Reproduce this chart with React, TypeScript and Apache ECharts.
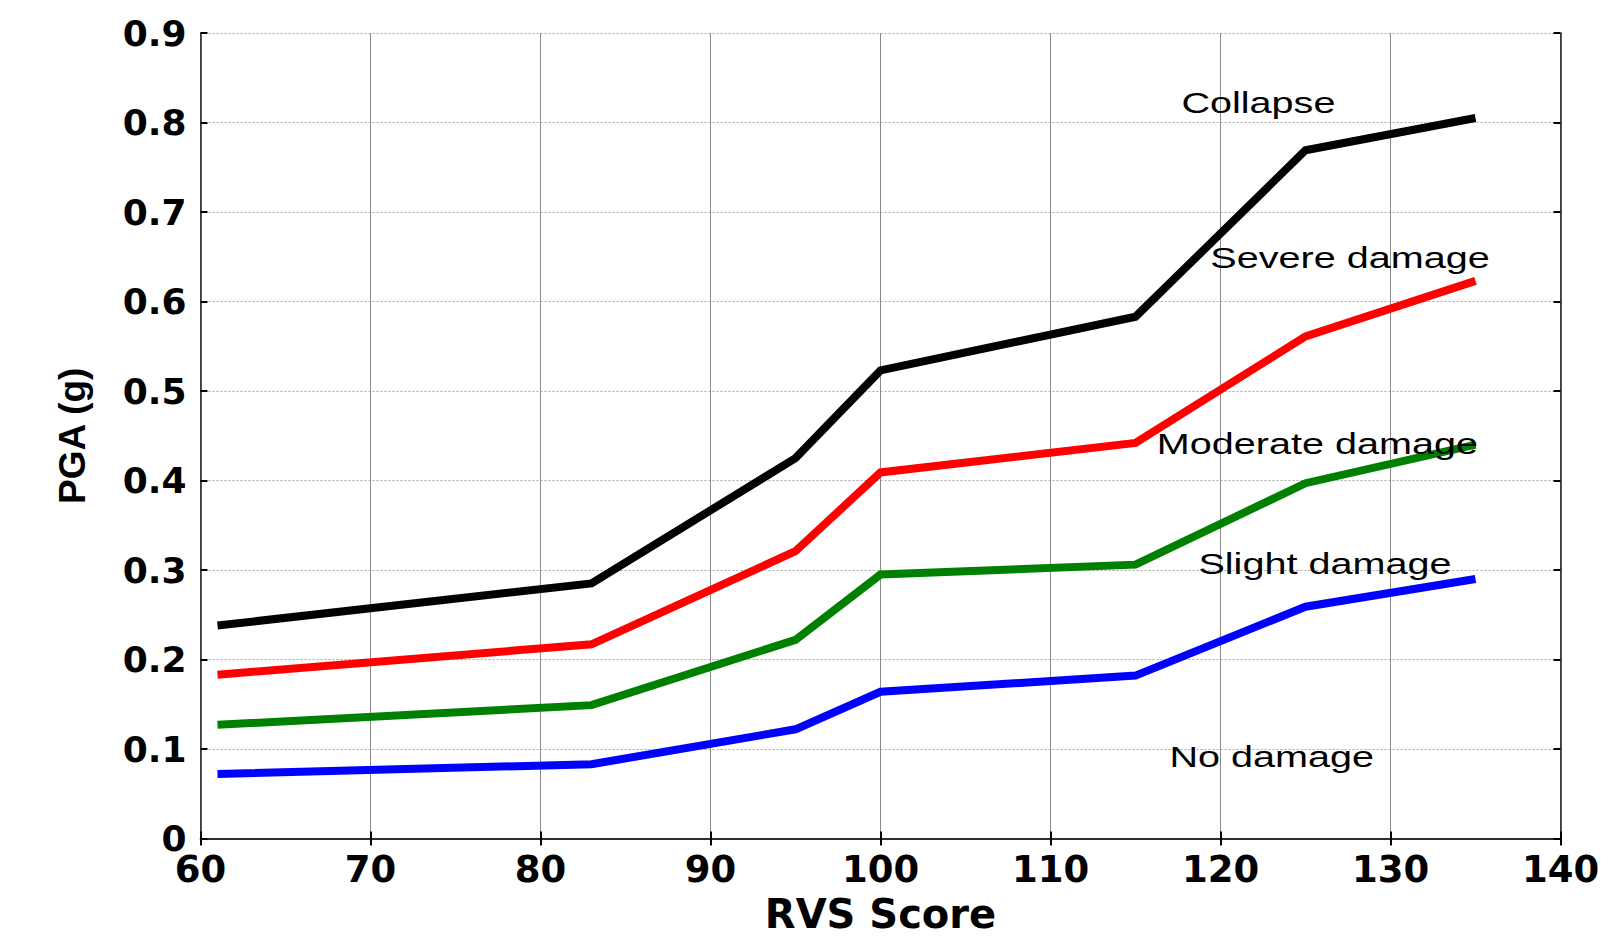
import React, { useEffect, useRef } from "react";
import * as echarts from "echarts";

// RVS score (x) at which each threshold was evaluated
const rvsScore = [61, 83, 95, 100, 115, 125, 135];

// PGA thresholds (g) separating the damage regions
const collapsePGA = [0.238, 0.285, 0.425, 0.523, 0.583, 0.769, 0.805];
const severePGA = [0.183, 0.217, 0.321, 0.409, 0.442, 0.561, 0.623];
const moderatePGA = [0.127, 0.149, 0.222, 0.295, 0.306, 0.397, 0.44];
const slightPGA = [0.072, 0.083, 0.122, 0.164, 0.182, 0.259, 0.29];

const seriesNames = ["Collapse", "Severe damage", "Moderate damage", "Slight damage"];
const seriesColors = ["#000000", "#ff0000", "#008000", "#0000ff"];

// Region annotations (data coordinates: left edge x, cap-middle y)
const regionLabels = ["Collapse", "Severe damage", "Moderate damage", "Slight damage", "No damage"];
const regionLabelX = [117.7, 119.4, 116.25, 118.7, 117.0];
const regionLabelY = [0.822, 0.649, 0.4415, 0.307, 0.092];

const xMin = 60;
const xMax = 140;
const xStep = 10;
const yMin = 0;
const yMax = 0.9;
const yStep = 0.1;

export default function App() {
  const ref = useRef<HTMLDivElement>(null);

  useEffect(() => {
    if (!ref.current) return;
    const chart = echarts.init(ref.current, null, { renderer: "svg" });
    const allSeries = [collapsePGA, severePGA, moderatePGA, slightPGA];

    const tickFont = {
      fontFamily: "DejaVu Sans",
      fontWeight: "bold" as const,
      color: "#000",
      lineHeight: 30,
    };
    const axisLine = { show: true, lineStyle: { color: "#222", width: 1.5 } };
    const innerTick = { show: true, inside: true, length: 7, lineStyle: { color: "#000", width: 2 } };

    chart.setOption({
      animation: false,
      backgroundColor: "#fff",
      grid: { left: 200.5, right: 61.5, top: 33, bottom: 106.5, containLabel: false },
      xAxis: [
        {
          type: "value",
          min: xMin,
          max: xMax,
          interval: xStep,
          position: "bottom",
          name: "RVS Score",
          nameLocation: "middle",
          nameGap: 55,
          nameTextStyle: {
            fontFamily: "DejaVu Sans",
            fontWeight: "bold",
            fontSize: 40,
            color: "#000",
          },
          axisLine,
          axisTick: innerTick,
          axisLabel: { ...tickFont, fontSize: 37, margin: 16 },
          splitLine: { show: true, lineStyle: { color: "#8a8a8a", width: 1, type: "solid" } },
        },
        {
          type: "value",
          min: xMin,
          max: xMax,
          interval: xStep,
          position: "top",
          axisLine,
          axisTick: innerTick,
          axisLabel: { show: false },
          splitLine: { show: false },
        },
      ],
      yAxis: [
        {
          type: "value",
          min: yMin,
          max: yMax,
          interval: yStep,
          position: "left",
          name: "PGA (g)",
          nameLocation: "middle",
          nameGap: 110,
          nameTextStyle: {
            fontFamily: "Liberation Sans",
            fontWeight: "bold",
            fontSize: 37,
            color: "#000",
          },
          axisLine,
          axisTick: innerTick,
          axisLabel: {
            ...tickFont,
            fontSize: 36,
            margin: 14,
            formatter: (v: number) => (v === 0 ? "0" : v.toFixed(1)),
          },
          splitLine: { show: true, lineStyle: { color: "#a8a8a8", width: 1, type: [2, 2] } },
        },
        {
          type: "value",
          min: yMin,
          max: yMax,
          interval: yStep,
          position: "right",
          axisLine,
          axisTick: innerTick,
          axisLabel: { show: false },
          splitLine: { show: false },
        },
      ],
      series: allSeries.map((vals, i) => ({
        name: seriesNames[i],
        type: "line",
        xAxisIndex: 0,
        yAxisIndex: 0,
        data: rvsScore.map((x, j) => [x, vals[j]]),
        showSymbol: false,
        symbol: "none",
        lineStyle: { color: seriesColors[i], width: 8, cap: "butt", join: "miter" },
        itemStyle: { color: seriesColors[i] },
        z: 3,
      })),
    });

    const graphic = regionLabels.map((t, i) => {
      const p = chart.convertToPixel({ gridIndex: 0 } as any, [regionLabelX[i], regionLabelY[i]]) as number[];
      return {
        type: "text",
        x: p[0],
        y: p[1],
        scaleX: 1.32,
        z: 100,
        style: {
          text: t,
          fontFamily: "Liberation Sans",
          fontSize: 30,
          fill: "#000",
          align: "left",
          textAlign: "left",
          verticalAlign: "middle",
          textVerticalAlign: "middle",
        },
      };
    });
    chart.setOption({ graphic });

    return () => chart.dispose();
  }, []);

  return (
    <div
      ref={ref}
      style={{ position: "absolute", left: 0, top: 0, width: 1622, height: 945 }}
    />
  );
}
